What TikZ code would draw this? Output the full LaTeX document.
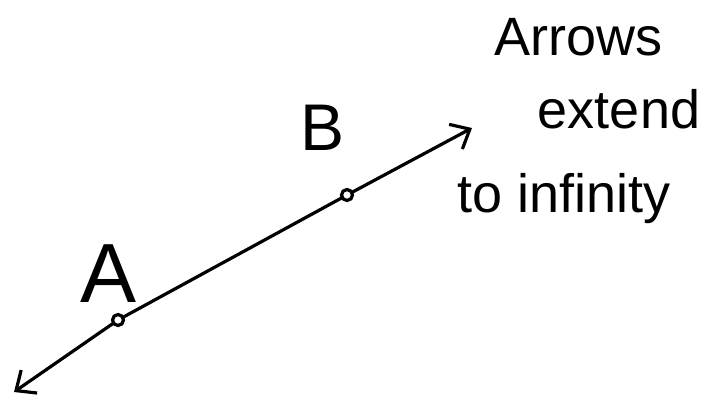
\documentclass[tikz,border=0pt]{standalone}
\usepackage{fontspec}
\setmainfont{Liberation Sans}
\usetikzlibrary{arrows.meta}

\begin{document}
\begin{tikzpicture}[x=1pt, y=-1pt, line width=3.2pt, line cap=round,
    barb/.tip={Straight Barb[length=16pt, width=28pt]},
    lbl/.style={anchor=base, font=\fontsize{66}{66}\selectfont},
    note/.style={anchor=base west, font=\fontsize{54}{54}\selectfont}]
  \useasboundingbox (0,0) rectangle (706,402);
  \coordinate (P) at (14, 392);   % lower end
  \coordinate (Q) at (472, 128);  % upper end
  \coordinate (A) at (118, 320);
  \coordinate (B) at (347, 195);

  \draw[barb-barb] (P) -- (A) -- (B) -- (Q);
  \draw[fill=white] (A) circle (5.5);
  \draw[fill=white] (B) circle (5.5);

  \node[lbl, font=\fontsize{84}{84}\selectfont] (la) at (109, 302) {A};
  \node[lbl] (lb) at (323, 150) {B};
  \node[note] (n1) at (490, 55)  {Arrows};
  \node[note] (n2) at (533, 128) {extend};
  \node[note] (n3) at (453, 212) {to infinity};
\end{tikzpicture}
\end{document}
